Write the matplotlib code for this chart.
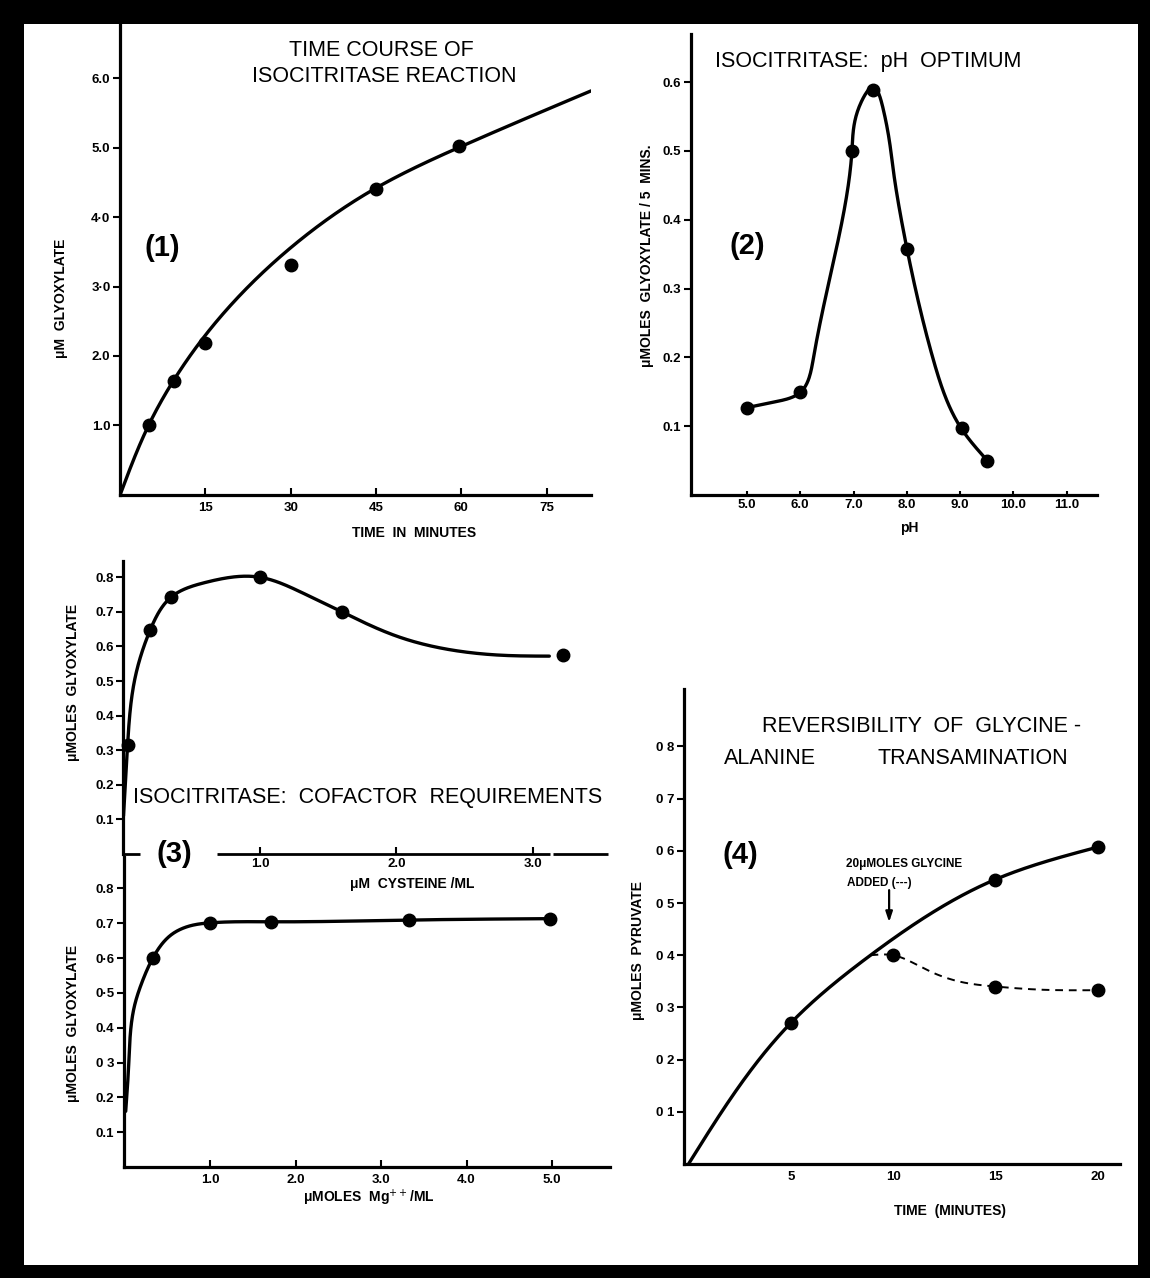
import numpy as np
import matplotlib
matplotlib.use("Agg")
import matplotlib.pyplot as plt
from matplotlib.patches import Rectangle

plt.rcParams["font.family"] = ["Liberation Sans", "DejaVu Sans"]
plt.rcParams["mathtext.fontset"] = "dejavusans"

# (1) time course of isocitritase reaction
p1_time = [5, 9.5, 15, 30, 45, 59.5]
p1_glyox = [1.0, 1.64, 2.18, 3.31, 4.41, 5.02]
p1_curve_t = [0, 5, 9.5, 15, 30, 45, 60, 82.8]
p1_curve_y = [0, 1.0, 1.66, 2.3, 3.56, 4.42, 5.02, 5.82]

# (2) pH optimum
p2_ph = [5.0, 6.0, 6.97, 7.36, 8.0, 9.03, 9.5]
p2_glyox = [0.127, 0.15, 0.50, 0.588, 0.358, 0.098, 0.05]
p2_curve_ph = [5.0, 5.5, 6.0, 6.25, 6.56, 6.97, 7.15, 7.36,
               7.56, 7.75, 8.0, 8.5, 9.02, 9.5]
p2_curve_y = [0.127, 0.135, 0.149, 0.20, 0.317, 0.50, 0.572, 0.593,
              0.56, 0.47, 0.359, 0.196, 0.097, 0.051]

# (3) cofactor requirements: cysteine
p3a_cys = [0.03, 0.195, 0.35, 1.0, 1.6, 3.22]
p3a_glyox = [0.316, 0.647, 0.743, 0.80, 0.701, 0.575]
p3a_curve_x = [0, 0.03, 0.08, 0.195, 0.35, 0.6, 1.0, 1.3, 1.6, 2.0, 2.4, 2.8, 3.12]
p3a_curve_y = [0.11, 0.316, 0.5, 0.647, 0.743, 0.785, 0.80, 0.757, 0.70, 0.63, 0.59, 0.574, 0.572]

# (3) cofactor requirements: Mg++
p3b_mg = [0.33, 1.0, 1.71, 3.33, 4.98]
p3b_glyox = [0.601, 0.701, 0.704, 0.709, 0.713]
p3b_curve_x = [0.01, 0.045, 0.117, 0.2, 0.33, 0.55, 0.79, 1.0, 1.71, 3.33, 4.98]
p3b_curve_y = [0.16, 0.294, 0.467, 0.53, 0.601, 0.668, 0.694, 0.701, 0.704, 0.709, 0.713]

# (4) glycine-alanine transamination
p4_time = [5, 15, 20]
p4_pyr = [0.27, 0.545, 0.608]
p4_curve_t = [0, 5, 8.9, 15, 20]
p4_curve_y = [0, 0.27, 0.40, 0.545, 0.607]
p4_gly_time = [10, 15, 20]
p4_gly_pyr = [0.401, 0.34, 0.334]
p4_gly_curve_t = [8.9, 10, 11, 11.7, 13.3, 15, 17.2, 20]
p4_gly_curve_y = [0.40, 0.40, 0.385, 0.371, 0.349, 0.34, 0.334, 0.333]


def natural_spline(x, y, xs):
    n = len(x)
    h = np.diff(x)
    A = np.zeros((n, n))
    r = np.zeros(n)
    A[0, 0] = A[-1, -1] = 1
    for i in range(1, n - 1):
        A[i, i - 1] = h[i - 1]
        A[i, i] = 2 * (h[i - 1] + h[i])
        A[i, i + 1] = h[i]
        r[i] = 6 * ((y[i + 1] - y[i]) / h[i] - (y[i] - y[i - 1]) / h[i - 1])
    M = np.linalg.solve(A, r)
    i = np.clip(np.searchsorted(x, xs) - 1, 0, n - 2)
    a = (x[i + 1] - xs) / h[i]
    b = (xs - x[i]) / h[i]
    return (a * y[i] + b * y[i + 1]
            + ((a**3 - a) * M[i] + (b**3 - b) * M[i + 1]) * h[i] ** 2 / 6)


def smooth(ax, xk, yk, n=500):
    """smooth the hand-drawn curve through its knots, in screen space"""
    pts = ax.transData.transform(np.column_stack([xk, yk]))
    s = np.concatenate([[0], np.cumsum(np.hypot(*np.diff(pts, axis=0).T))])
    ss = np.linspace(0, s[-1], n)
    out = np.column_stack([natural_spline(s, pts[:, 0], ss), natural_spline(s, pts[:, 1], ss)])
    return ax.transData.inverted().transform(out).T


W, H = 1150, 1278
fig = plt.figure(figsize=(W / 100, H / 100), dpi=100, facecolor="black")
fig.patches.append(Rectangle((24 / W, 1 - 1265 / H), (1138 - 24) / W, (1265 - 24) / H,
                             transform=fig.transFigure, facecolor="white", edgecolor="none", zorder=-10))


def axes_px(l, t, r, b, xlim, ylim):
    ax = fig.add_axes([l / W, 1 - b / H, (r - l) / W, (b - t) / H])
    ax.set_facecolor("none")
    ax.set_xlim(*xlim)
    ax.set_ylim(*ylim)
    for s in ["top", "right"]:
        ax.spines[s].set_visible(False)
    for s in ["left", "bottom"]:
        ax.spines[s].set_linewidth(2.3)
    ax.tick_params(axis="x", direction="in", length=5, width=1.5)
    ax.tick_params(axis="y", direction="out", length=5, width=1.5, pad=2)
    return ax


def ftext(px, py, s, **kw):
    fig.text(px / W, 1 - py / H, s, ha=kw.pop("ha", "center"), va=kw.pop("va", "center"), **kw)


TICK = dict(fontsize=9.5, fontweight="bold")
LBL = dict(fontsize=10, fontweight="bold")
TITLE = dict(fontsize=15.5)
PANEL = dict(fontsize=21, fontweight="bold")
LINE = dict(color="black", lw=2.4, solid_capstyle="round")
DOT = dict(color="black", marker="o", ms=9, ls="none", zorder=5)

# ---- panel 1
ax1 = axes_px(120.2, 25, 591, 494.6, (0, 82.8), (0, 6.77))
ax1.plot(*smooth(ax1, p1_curve_t, p1_curve_y), **LINE)
ax1.plot(p1_time, p1_glyox, **DOT)
ax1.set_xticks([15, 30, 45, 60, 75])
ax1.set_xticklabels(["15", "30", "45", "60", "75"], **TICK)
ax1.set_yticks([1, 2, 3, 4, 5, 6])
ax1.set_yticklabels(["1.0", "2.0", "3·0", "4·0", "5.0", "6.0"], **TICK)
ax1.tick_params(axis="x", pad=5)
ftext(381, 51, "TIME COURSE OF", **TITLE)
ftext(384, 77, "ISOCITRITASE REACTION", **TITLE)
ftext(162, 248, "(1)", **PANEL)
ftext(61, 298, "μM  GLYOXYLATE", rotation=90, **LBL)
ftext(414, 533, "TIME  IN  MINUTES", **LBL)

# ---- panel 2
ax2 = axes_px(691, 34, 1096.5, 495, (3.95, 11.56), (0, 0.67))
ax2.plot(*smooth(ax2, p2_curve_ph, p2_curve_y), **LINE)
ax2.plot(p2_ph, p2_glyox, **DOT)
ax2.set_xticks([5, 6, 7, 8, 9, 10, 11])
ax2.set_xticklabels(["5.0", "6.0", "7.0", "8.0", "9.0", "10.0", "11.0"], **TICK)
ax2.set_yticks([0.1, 0.2, 0.3, 0.4, 0.5, 0.6])
ax2.set_yticklabels(["0.1", "0.2", "0.3", "0.4", "0.5", "0.6"], **TICK)
ax2.tick_params(axis="x", pad=3, length=3)
ftext(868, 61, "ISOCITRITASE:  pH  OPTIMUM", **TITLE)
ftext(747, 246, "(2)", **PANEL)
ftext(647, 256, "μMOLES  GLYOXYLATE / 5  MINS.", rotation=90, **LBL)
ftext(909, 528, "pH", **LBL)

# ---- panel 3, cysteine
ax3a = axes_px(123.5, 561, 608, 854, (0, 3.55), (0, 0.847))
ax3a.spines["bottom"].set_visible(False)
for x0, x1 in [(0, 0.12), (0.685, 3.125), (3.145, 3.55)]:
    ax3a.plot([x0, x1], [0, 0], color="black", lw=2.0, clip_on=False, solid_capstyle="butt")
ax3a.plot(*smooth(ax3a, p3a_curve_x, p3a_curve_y), **LINE)
ax3a.plot(p3a_cys, p3a_glyox, clip_on=False, **DOT)
ax3a.set_xticks([1, 2, 3])
ax3a.set_xticklabels(["1.0", "2.0", "3.0"], **TICK)
ax3a.set_yticks([0.1, 0.2, 0.3, 0.4, 0.5, 0.6, 0.7, 0.8])
ax3a.set_yticklabels(["0.1", "0.2", "0.3", "0.4", "0.5", "0.6", "0.7", "0.8"], **TICK)
ax3a.tick_params(axis="x", pad=3)
ftext(368, 797, "ISOCITRITASE:  COFACTOR  REQUIREMENTS", **TITLE)
ftext(174, 854, "(3)", **PANEL)
ftext(73, 682, "μMOLES  GLYOXYLATE", rotation=90, **LBL)
ftext(412, 884, "μM  CYSTEINE /ML", **LBL)

# ---- panel 3, magnesium
ax3b = axes_px(124, 857, 610, 1167, (-0.01, 5.68), (0, 0.89))
ax3b.plot(*smooth(ax3b, p3b_curve_x, p3b_curve_y), **LINE)
ax3b.plot(p3b_mg, p3b_glyox, **DOT)
ax3b.set_xticks([1, 2, 3, 4, 5])
ax3b.set_xticklabels(["1.0", "2.0", "3.0", "4.0", "5.0"], **TICK)
ax3b.set_yticks([0.1, 0.2, 0.3, 0.4, 0.5, 0.6, 0.7, 0.8])
ax3b.set_yticklabels(["0.1", "0.2", "0 3", "0.4", "0·5", "0·6", "0.7", "0.8"], **TICK)
ax3b.tick_params(axis="x", pad=5)
ftext(73, 1023, "μMOLES  GLYOXYLATE", rotation=90, **LBL)
ftext(369, 1198, r"μMOLES  Mg$^{++}$/ML", **LBL)

# ---- panel 4
ax4 = axes_px(684, 689, 1120, 1164, (-0.22, 21.1), (0, 0.91))
ax4.plot(*smooth(ax4, p4_curve_t, p4_curve_y), **LINE)
ax4.plot(*smooth(ax4, p4_gly_curve_t, p4_gly_curve_y), color="black", lw=1.4, dashes=(4, 3))
ax4.plot(p4_time, p4_pyr, **DOT)
ax4.plot(p4_gly_time, p4_gly_pyr, **DOT)
ax4.set_xticks([5, 10, 15, 20])
ax4.set_xticklabels(["5", "10", "15", "20"], **TICK)
ax4.set_yticks([0.1, 0.2, 0.3, 0.4, 0.5, 0.6, 0.7, 0.8])
ax4.set_yticklabels(["0 1", "0 2", "0 3", "0 4", "0 5", "0 6", "0 7", "0 8"], **TICK)
ax4.tick_params(axis="x", pad=5, length=0)
ax4.annotate("", xy=(9.81, 0.458), xytext=(9.81, 0.53),
             arrowprops=dict(arrowstyle="-|>,head_width=0.2,head_length=0.6", lw=1.6, color="black"))
ftext(922, 726, "REVERSIBILITY  OF  GLYCINE -", **TITLE)
ftext(770, 759, "ALANINE", **TITLE)
ftext(973, 759, "TRANSAMINATION", **TITLE)
ftext(740, 855, "(4)", **PANEL)
ftext(846, 864, "20μMOLES GLYCINE", ha="left", fontsize=8.5, fontweight="bold")
ftext(847, 883, "ADDED (---)", ha="left", fontsize=8.5, fontweight="bold")
ftext(638, 950, "μMOLES  PYRUVATE", rotation=90, **LBL)
ftext(950, 1211, "TIME  (MINUTES)", **LBL)

fig.savefig("out.png", dpi=100, facecolor=fig.get_facecolor())
